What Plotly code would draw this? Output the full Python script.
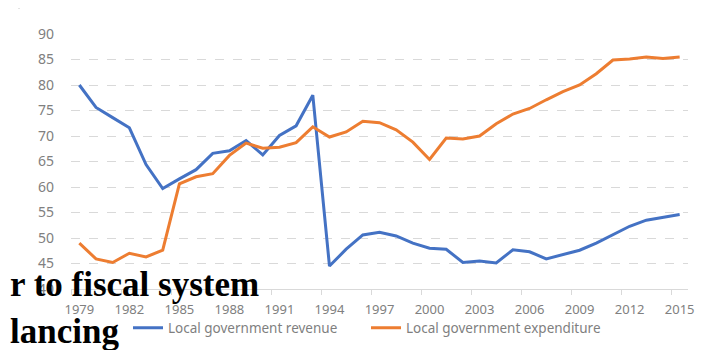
import plotly.graph_objects as go

years = list(range(1979, 2016))
tick_years = list(range(1979, 2016, 3))
tick_labels = [str(y) for y in tick_years]
revenue = [80.0, 75.6, 73.6, 71.6, 64.4, 59.7, 61.6, 63.4, 66.6, 67.1, 69.1, 66.3, 70.1, 72.0, 78.0,
           44.5, 47.8, 50.6, 51.1, 50.4, 49.0, 48.0, 47.8, 45.2, 45.5, 45.1, 47.7, 47.3, 45.9,
           46.7, 47.6, 49.0, 50.7, 52.3, 53.5, 54.0, 54.6]
expenditure = [49.0, 45.9, 45.2, 47.0, 46.3, 47.6, 60.6, 62.0, 62.6, 66.2, 68.6, 67.6, 67.8, 68.7, 71.8,
               69.8, 70.8, 72.9, 72.6, 71.2, 68.8, 65.4, 69.6, 69.4, 70.0, 72.4, 74.3, 75.4, 77.1,
               78.7, 80.0, 82.2, 84.9, 85.1, 85.5, 85.2, 85.5]
series_names = ["Local government revenue", "Local government expenditure"]
overlay_texts = ["r to fiscal system", "lancing"]

# the page adds an 8px body margin; size the figure to the visible window
OFF = 8
W, H = 706 - OFF, 350 - OFF
PL, PR, PT, PB = 71, 688, 34, 289          # plot area in window pixels
L, R, T, B = PL - OFF, W - (PR - OFF), PT - OFF, H - (PB - OFF)
pw, ph = W - L - R, H - T - B

def px_x(px):
    return (px - PL) / pw

def px_y(py):
    return (PB - py) / ph

fig = go.Figure()
fig.add_trace(go.Scatter(x=years, y=revenue, mode="lines", name=series_names[0],
                         line=dict(color="#4472C4", width=3)))
fig.add_trace(go.Scatter(x=years, y=expenditure, mode="lines", name=series_names[1],
                         line=dict(color="#ED7D31", width=3)))

fig.update_layout(
    template="none",
    width=W, height=H, autosize=False,
    margin=dict(l=L, r=R, t=T, b=B, pad=0, autoexpand=False),
    paper_bgcolor="white", plot_bgcolor="white",
    font=dict(family="Noto Sans, DejaVu Sans, sans-serif", color="#7f7f7f", size=13),
    showlegend=True,
    legend=dict(orientation="h", x=px_x(128), xanchor="left", y=px_y(328), yanchor="middle",
                font=dict(size=13.5, color="#7f7f7f"), entrywidth=193, entrywidthmode="pixels",
                tracegroupgap=0, bgcolor="rgba(0,0,0,0)"),
    xaxis=dict(range=[1978.5, 2015.5], autorange=False, automargin=False,
               tickmode="array", tickvals=tick_years, ticktext=tick_labels,
               tickangle=0, showgrid=False, zeroline=False,
               showline=True, linecolor="#d9d9d9", linewidth=1, ticks="",
               minor=dict(tickmode="linear", tick0=1978.5, dtick=3, ticks="outside", ticklen=5,
                          tickcolor="#d9d9d9", showgrid=False),
               tickfont=dict(size=13, color="#808080"), ticklabelstandoff=8),
    yaxis=dict(range=[40, 90], autorange=False, automargin=False,
               tickmode="linear", tick0=40, dtick=5,
               showgrid=True, gridcolor="#d9d9d9", griddash="dash", gridwidth=1,
               zeroline=False, showline=False, ticks="",
               tickfont=dict(size=14, color="#808080"), ticklabelstandoff=16),
)

fig.add_annotation(text="<b>" + overlay_texts[0] + "</b>", xref="paper", yref="paper",
                   x=px_x(OFF), y=px_y(284), xanchor="left", yanchor="middle", showarrow=False,
                   font=dict(family="Liberation Serif, Times New Roman, serif", size=35, color="black"))
fig.add_annotation(text="<b>" + overlay_texts[1] + "</b>", xref="paper", yref="paper",
                   x=px_x(OFF), y=px_y(331), xanchor="left", yanchor="middle", showarrow=False,
                   font=dict(family="Liberation Serif, Times New Roman, serif", size=35, color="black"))

# small corner marks
fig.add_shape(type="path", xref="paper", yref="paper",
              path=f"M {px_x(15)},{px_y(4)} L {px_x(19)},{px_y(4)} L {px_x(19)},{px_y(9)}",
              line=dict(color="#c8c8c8", width=1))
fig.add_shape(type="path", xref="paper", yref="paper",
              path=f"M {px_x(697)},{px_y(4)} L {px_x(701)},{px_y(4)}",
              line=dict(color="#e0e0e0", width=1))

fig.write_html("out.html")
